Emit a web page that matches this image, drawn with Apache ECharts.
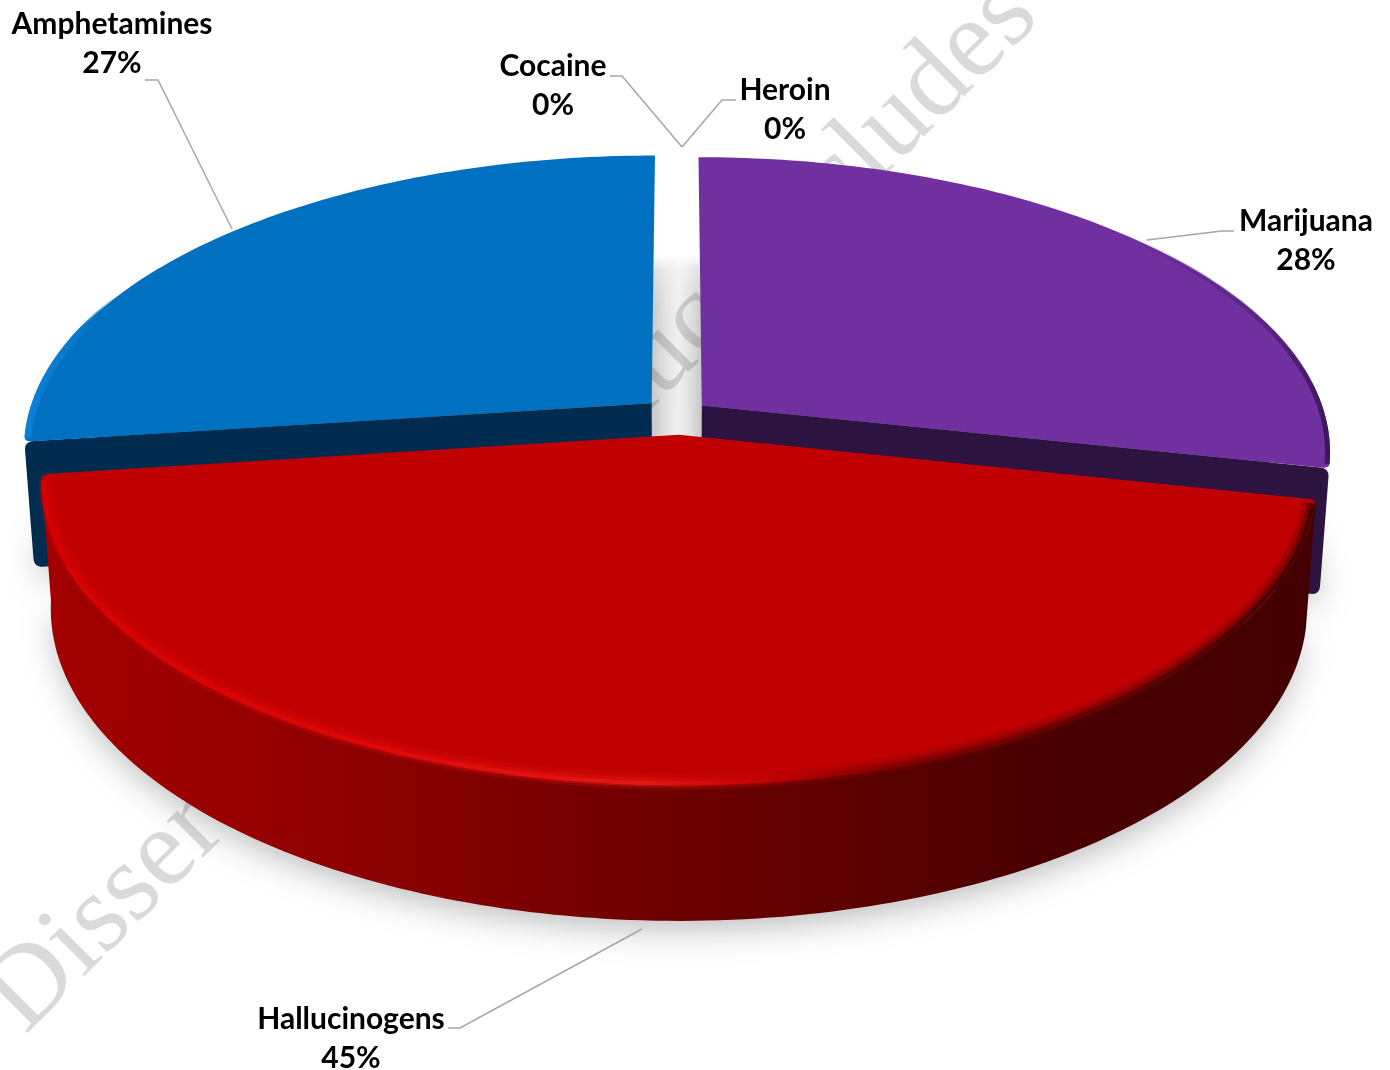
<!DOCTYPE html>
<html><head><meta charset="utf-8">
<style>html,body{margin:0;padding:0;background:#fff}#c{width:1390px;height:1070px}</style>
<script src="https://cdn.jsdelivr.net/npm/echarts@6/dist/echarts.min.js"></script>
</head><body><div id="c"></div>
<script>
// Clockwise from twelve o'clock, as in the original pie
const categories = ['Marijuana', 'Hallucinogens', 'Amphetamines', 'Cocaine', 'Heroin'];
const percents = [28.4, 44.5, 27.1, 0, 0];

// Styling and layout, kept apart from the data
const TOP_COLORS = ['#7030a0', '#c00000', '#0070c0', '#888', '#888'];
const SIDE_COLORS = ['#2c1340', '#c00000', '#012b4f', '#888', '#888'];
const EXPLODE = [[0.040, -0.050], [0.003, 0.050], [-0.041, -0.058], [0, 0], [0, 0]];
const LABEL_POS = [[1306, 241], [351, 1039], [112, 44], [553, 86], [785, 110]];
const LEADERS = [
  [[1234, 231], [1222, 231], [1147, 240]],
  [[448, 1028], [460, 1028], [642, 929]],
  [[145, 80], [158, 80], [232, 229]],
  [[610, 76], [622, 76], [682, 147]],
  [[736, 100], [722, 100], [682, 147]]
];
const CX = 677, CY = 420, R = 625, H = 291, K = 0.155;
const DEPTH = 125, FX = 0.985, FY = 1.03;

const total = percents.reduce((a, b) => a + b, 0);
const starts = [];
percents.reduce((acc, v, i) => { starts[i] = acc; return acc + v; }, 0);

function proj(u, v, bottom) {
  const s = 1 / (1 - K * v);
  return bottom
    ? [CX + R * FX * u * s, CY + DEPTH + H * FY * v * s]
    : [CX + R * u * s, CY + H * v * s];
}
function arc(a0, a1, ex, bottom, scale) {
  const pts = [], sc = scale || 1;
  const n = Math.max(2, Math.ceil(Math.abs(a1 - a0)));
  for (let i = 0; i <= n; i++) {
    const t = (a0 + (a1 - a0) * i / n) * Math.PI / 180;
    pts.push(proj(Math.sin(t) * sc + ex[0], -Math.cos(t) * sc + ex[1], bottom));
  }
  return pts;
}
function rounded(pts, idxs, r) {
  const out = [];
  pts.forEach((p, i) => {
    if (idxs.indexOf(i) < 0) { out.push(p); return; }
    const a = pts[(i - 1 + pts.length) % pts.length], b = pts[(i + 1) % pts.length];
    const to = (q) => { const d = Math.hypot(q[0] - p[0], q[1] - p[1]), m = Math.min(r, d * 0.9) / d;
      return [p[0] + (q[0] - p[0]) * m, p[1] + (q[1] - p[1]) * m]; };
    const s = to(a), e = to(b);
    for (let k = 0; k <= 6; k++) {
      const t = k / 6, w = 1 - t;
      out.push([w * w * s[0] + 2 * w * t * p[0] + t * t * e[0], w * w * s[1] + 2 * w * t * p[1] + t * t * e[1]]);
    }
  });
  return out;
}
const hGrad = (x0, x1, stops) => ({ type: 'linear', x: x0, y: 0, x2: x1, y2: 0, global: true,
  colorStops: stops.map(s => ({ offset: s[0], color: s[1] })) });
const RED_WALL = hGrad(45, 1310, [[0, '#a30000'], [0.2, '#930000'], [0.45, '#730000'], [0.62, '#5f0000'], [0.78, '#4a0000'], [1, '#440000']]);
const RED_DARK = (a) => hGrad(40, 1312, [[0, 'rgba(216,0,0,' + a + ')'], [0.25, 'rgba(224,8,8,' + a + ')'], [0.47, 'rgba(232,24,24,' + a + ')'], [0.56, 'rgba(200,4,4,' + a + ')'], [0.66, 'rgba(130,0,0,' + a + ')'], [1, 'rgba(56,0,0,' + a + ')']]);
const RIMS = {
  0: [[hGrad(1130, 1335, [[0, 'rgba(80,30,120,0)'], [0.6, 'rgba(80,36,120,0.7)'], [1, 'rgba(50,20,80,0.9)']]), 5, 1, 0.996]],
  1: [
    [RED_DARK(0.22), 16, 1, 0.992],
    [RED_DARK(0.38), 9, 1, 0.994],
    [RED_DARK(0.85), 4, 1, 0.996]
  ],
  2: [[hGrad(25, 115, [[0, '#0a80d8'], [0.6, '#0878cc'], [1, 'rgba(0,112,192,0)']]), 7, 1, 0.995]]
};
const RIM_SPAN = { 0: [45, 103], 1: [102, 262], 2: [262, 305] };

function renderItem(params, api) {
  const i = params.dataIndex, val = api.value(0), start = api.value(1);
  const a0 = start / total * 360, a1 = (start + val) / total * 360;
  const ex = EXPLODE[i], kids = [];
  const isFront = i === 1, base = isFront ? 20 : 0;

  if (val > 0) {
    const topArc = arc(a0, a1, ex, false), botArc = arc(a0, a1, ex, true);
    const apexT = proj(ex[0], ex[1], false), apexB = proj(ex[0], ex[1], true);

    // soft floor shadow under the slice: the caster itself stays hidden behind the walls
    kids.push({ type: 'polygon', z2: 1, silent: true,
      shape: { points: [apexB].concat(arc(a0 + 0.5, a1 - 0.5, ex, true, 0.995)) },
      style: { fill: '#777', shadowColor: 'rgba(0,0,0,0.24)', shadowBlur: 30, shadowOffsetX: 0, shadowOffsetY: 12 } });

    // walls
    if (isFront) {
      kids.push({ type: 'polygon', z2: base + 1, silent: true,
        shape: { points: topArc.concat(botArc.slice().reverse()) },
        style: { fill: RED_WALL } });
    } else {
      const leftSide = i === 2;
      const outerT = leftSide ? topArc[0] : topArc[topArc.length - 1];
      const outerB = leftSide ? botArc[0] : botArc[botArc.length - 1];
      kids.push({ type: 'polygon', z2: base + 2, silent: true,
        shape: { points: rounded([apexT, outerT, outerB, apexB], [1, 2], 9) },
        style: { fill: SIDE_COLORS[i] } });
    }
    // top face
    const topPts = [apexT].concat(topArc);
    kids.push({ type: 'polygon', z2: base + 3, silent: true,
      shape: { points: rounded(topPts, isFront ? [1, topPts.length - 1] : (i === 2 ? [1] : [topPts.length - 1]), 8) },
      style: { fill: TOP_COLORS[i] } });
    // bevel along the rim
    (RIMS[i] || []).forEach(r => {
      kids.push({ type: 'polyline', z2: base + 4, silent: true,
        shape: { points: arc(Math.max(a0, RIM_SPAN[i][0]) + 0.8, Math.min(a1, RIM_SPAN[i][1]) - 0.8, ex, false, r[3]) },
        style: { stroke: r[0], lineWidth: r[1], opacity: r[2], fill: null, lineCap: 'butt', lineJoin: 'round' } });
    });
  }

  // leader line and label
  kids.push({ type: 'polyline', z2: 40, silent: true,
    shape: { points: LEADERS[i] },
    style: { stroke: '#a6a6a6', lineWidth: 1.5, fill: null } });
  kids.push({ type: 'text', z2: 41, silent: true,
    x: LABEL_POS[i][0], y: LABEL_POS[i][1],
    style: { text: categories[i] + '\n' + Math.round(val) + '%', font: 'bold 30px Lato, "Open Sans", sans-serif',
      fill: '#000', align: 'center', verticalAlign: 'middle', lineHeight: 39 } });
  return { type: 'group', children: kids };
}

const chart = echarts.init(document.getElementById('c'), null, { renderer: 'canvas', width: 1390, height: 1070 });
chart.setOption({
  animation: false,
  backgroundColor: '#fff',
  graphic: { elements: [
    { type: 'text', z: 0, silent: true, x: 44, y: 1054, rotation: Math.PI / 4,
      style: { text: 'Dissertation Reproduct includes', font: '112px "Liberation Serif", serif', fill: '#dadada',
        align: 'left', verticalAlign: 'bottom' } },
    { type: 'rect', z: 1, silent: true, shape: { x: 650, y: 256, width: 60, height: 186 },
      style: { fill: hGrad(655, 703, [[0, 'rgba(0,0,0,0.11)'], [0.5, 'rgba(0,0,0,0.04)'], [1, 'rgba(0,0,0,0.12)']]) } },
    { type: 'rect', z: 1, silent: true, shape: { x: 650, y: 255, width: 60, height: 16 },
      style: { fill: { type: 'linear', x: 0, y: 0, x2: 0, y2: 1, colorStops: [{ offset: 0, color: 'rgba(255,255,255,1)' }, { offset: 1, color: 'rgba(255,255,255,0)' }] } } }
  ] },
  series: [{
    type: 'custom',
    coordinateSystem: 'none',
    silent: true,
    renderItem: renderItem,
    data: categories.map((c, i) => ({ name: c, value: [percents[i], starts[i]] }))
  }]
});
</script></body></html>
